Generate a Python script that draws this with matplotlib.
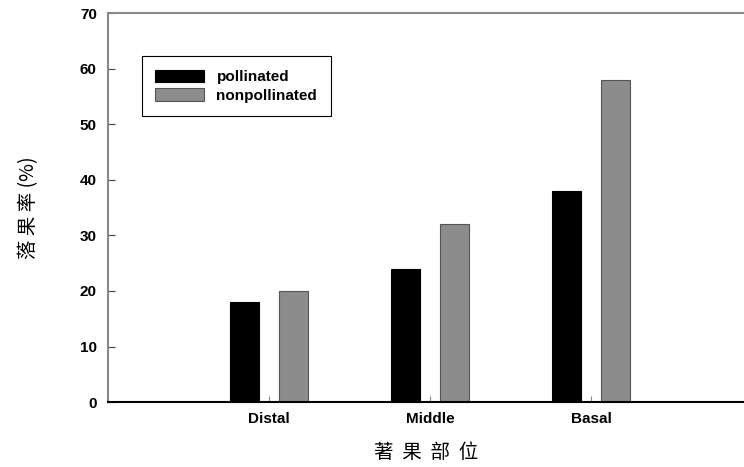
import numpy as np
import matplotlib.pyplot as plt

# 著果部位 vs 落果率
categories = ["Distal", "Middle", "Basal"]
pollinated = [18, 24, 38]
nonpollinated = [20, 32, 58]

plt.rcParams['font.family'] = ['Liberation Sans', 'DejaVu Sans']

fig = plt.figure(figsize=(7.44, 4.67), dpi=100)
ax = fig.add_axes([0.145, 0.139, 0.855, 0.833])

x = np.arange(1, len(categories) + 1)
w = 0.18
ax.bar(x - 0.15, pollinated, w, color="black", edgecolor="black", linewidth=0.8, label="pollinated")
ax.bar(x + 0.15, nonpollinated, w, color="#8c8c8c", edgecolor="#555555", linewidth=0.8, label="nonpollinated")

ax.set_xlim(0, 3.95)
ax.set_ylim(0, 70)
ax.set_yticks(range(0, 71, 10))
ax.set_xticks(x)
ax.set_xticklabels(categories, fontsize=11, fontweight="bold")
for t in ax.get_yticklabels():
    t.set_fontweight("bold")
ax.tick_params(axis="y", direction="in", length=5, labelsize=11, color="#444444", pad=8)
ax.tick_params(axis="x", direction="in", length=4, color="#888888", pad=7)

ax.spines["right"].set_visible(False)
ax.spines["top"].set_color("#888888")
ax.spines["left"].set_color("#888888")
ax.spines["top"].set_linewidth(1.5)
ax.spines["left"].set_linewidth(1.5)
ax.spines["bottom"].set_color("black")
ax.spines["bottom"].set_linewidth(1.5)

ax.set_xlabel("著  果  部  位", fontsize=14, family=["Noto Sans CJK TC", "DejaVu Sans"], labelpad=12)
ax.set_ylabel("落 果 率 (%)", fontsize=14, family=["Noto Sans CJK TC", "DejaVu Sans"], labelpad=29)

leg = ax.legend(loc="upper left", bbox_to_anchor=(0.053, 0.89),
                prop={"size": 11, "weight": "bold"},
                fancybox=False, edgecolor="black", framealpha=1,
                handlelength=3.2, handleheight=0.9, borderpad=0.9, labelspacing=0.25,
                borderaxespad=0, handletextpad=0.8)
leg.get_frame().set_linewidth(0.8)

fig.savefig("out.png", dpi=100)
